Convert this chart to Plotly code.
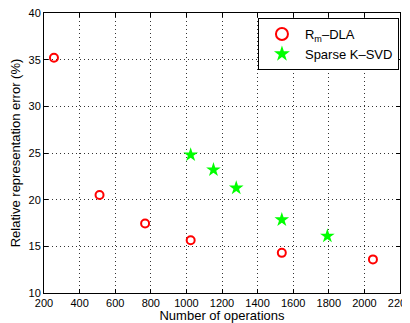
import plotly.graph_objects as go

rm_x = [256, 512, 768, 1024, 1536, 2048]
rm_y = [35.2, 20.5, 17.45, 15.65, 14.3, 13.6]
ksvd_x = [1024, 1152, 1280, 1536, 1792]
ksvd_y = [24.8, 23.2, 21.25, 17.85, 16.1]

x_ticks = list(range(200, 2201, 200))
y_ticks = list(range(10, 41, 5))

font = "Liberation Sans, Arial, sans-serif"

fig = go.Figure()
fig.add_trace(go.Scatter(
    x=rm_x, y=rm_y, mode="markers", name="R<sub>m</sub>–DLA", legendgroup="a",
    marker=dict(symbol="circle-open", size=8, color="red", line=dict(width=2, color="red")),
))
fig.add_trace(go.Scatter(
    x=ksvd_x, y=ksvd_y, mode="markers", name="Sparse K–SVD", legendgroup="b",
    marker=dict(symbol="star", size=11, color="#00ff00", line=dict(width=0)),
))

axis_common = dict(
    showline=True, linecolor="black", linewidth=1, mirror="ticks",
    ticks="inside", ticklen=4, tickcolor="black",
    showgrid=True, gridcolor="#333333", griddash="1px,3px", gridwidth=1,
    zeroline=False, tickfont=dict(size=11, color="black", family=font),
    ticklabeloverflow="allow",
)

fig.update_xaxes(range=[200, 2200], tickvals=x_ticks,
                 title=dict(text="Number of operations", font=dict(size=13, color="black", family=font), standoff=0),
                 **axis_common)
fig.update_yaxes(range=[10, 40], tickvals=y_ticks,
                 title=dict(text="Relative representation error (%)", font=dict(size=13, color="black", family=font), standoff=4),
                 **axis_common)

fig.update_layout(
    width=402, height=315,
    margin=dict(l=36, r=10, t=5, b=30, autoexpand=False),
    paper_bgcolor="white", plot_bgcolor="white",
    font=dict(family=font, color="black"),
    legend=dict(x=0.601, y=0.982, xanchor="left", yanchor="top",
                bordercolor="black", borderwidth=1, bgcolor="white",
                font=dict(size=13, family=font, color="black"),
                traceorder="grouped", tracegroupgap=0, itemsizing="constant",
                itemwidth=36),
)

fig.write_html("out.html")
